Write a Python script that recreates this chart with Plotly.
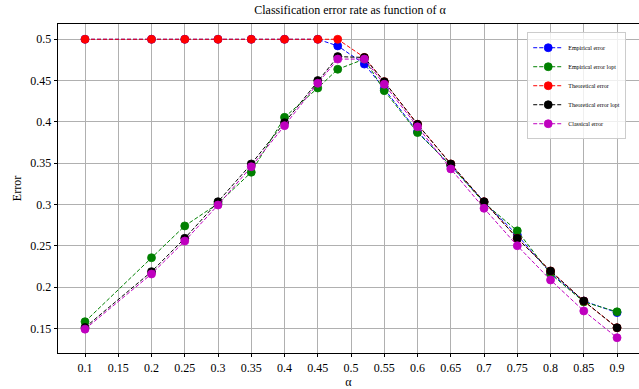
import plotly.graph_objects as go

alpha = [0.1, 0.2, 0.25, 0.3, 0.35, 0.4, 0.45, 0.48, 0.52, 0.55, 0.6, 0.65, 0.7, 0.75, 0.8, 0.85, 0.9]

empirical_error = [0.5, 0.5, 0.5, 0.5, 0.5, 0.5, 0.5, 0.492, 0.470, 0.440, 0.388, 0.347, 0.303, 0.263, 0.217, 0.183, 0.169]
empirical_error_lopt = [0.158, 0.2355, 0.274, 0.301, 0.339, 0.4055, 0.441, 0.4637, 0.476, 0.4378, 0.387, 0.347, 0.302, 0.268, 0.216, 0.182, 0.170]
theoretical_error = [0.5, 0.5, 0.5, 0.5, 0.5, 0.5, 0.5, 0.5, 0.478, 0.4487, 0.397, 0.349, 0.3033, 0.259, 0.2194, 0.183, 0.1507]
theoretical_error_lopt = [0.151, 0.2186, 0.259, 0.3033, 0.349, 0.399, 0.450, 0.479, 0.478, 0.4487, 0.397, 0.349, 0.3033, 0.259, 0.2194, 0.183, 0.1507]
classical_error = [0.149, 0.2158, 0.2557, 0.2993, 0.3457, 0.3954, 0.4467, 0.476, 0.476, 0.4455, 0.394, 0.343, 0.2953, 0.250, 0.2085, 0.171, 0.1386]

series_names = ["Empirical error", "Empirical error lopt", "Theoretical error",
                "Theoretical error lopt", "Classical error"]
series_values = [empirical_error, empirical_error_lopt, theoretical_error,
                 theoretical_error_lopt, classical_error]
series_colors = ["#0000ff", "#008000", "#ff0000", "#000000", "#bf00bf"]

x_ticks = [0.1, 0.15, 0.2, 0.25, 0.3, 0.35, 0.4, 0.45, 0.5, 0.55, 0.6, 0.65, 0.7, 0.75, 0.8, 0.85, 0.9]
x_tick_labels = ["0.1", "0.15", "0.2", "0.25", "0.3", "0.35", "0.4", "0.45", "0.5",
                 "0.55", "0.6", "0.65", "0.7", "0.75", "0.8", "0.85", "0.9"]
y_ticks = [0.15, 0.2, 0.25, 0.3, 0.35, 0.4, 0.45, 0.5]
y_tick_labels = ["0.15", "0.2", "0.25", "0.3", "0.35", "0.4", "0.45", "0.5"]

FONT = "Liberation Serif"

fig = go.Figure()
for name, vals, col in zip(series_names, series_values, series_colors):
    fig.add_trace(go.Scatter(
        x=alpha, y=vals, name=name, mode="lines+markers",
        line=dict(color=col, width=1, dash="4px,2px"),
        marker=dict(color=col, size=8, line=dict(color=col, width=0.8)),
    ))

fig.update_layout(
    width=639, height=389,
    margin=dict(l=58, r=0, t=24, b=36, autoexpand=False),
    plot_bgcolor="white", paper_bgcolor="white",
    font=dict(family=FONT, size=12, color="black"),
    title=dict(text="Classification error rate as function of α", x=350/639, xanchor="center",
               y=1 - 10/389, yanchor="middle", font=dict(family=FONT, size=12, color="black")),
    showlegend=True,
    legend=dict(x=0.978, y=0.975, xanchor="right", yanchor="top",
                bgcolor="rgba(255,255,255,0.8)", bordercolor="#cccccc", borderwidth=1,
                font=dict(family=FONT, size=6, color="black"), itemwidth=30),
)
fig.update_xaxes(
    range=[0.0594, 0.933], tickmode="array", tickvals=x_ticks, ticktext=x_tick_labels,
    automargin=False,
    showgrid=True, gridcolor="#b0b0b0", gridwidth=0.8, zeroline=False,
    showline=True, linecolor="black", linewidth=0.8, mirror=True,
    ticks="outside", ticklen=3.5, tickwidth=0.8, tickcolor="black",
    title=dict(text="α", standoff=2, font=dict(family=FONT, size=12)),
)
fig.update_yaxes(
    range=[0.1201, 0.5185], tickmode="array", tickvals=y_ticks, ticktext=y_tick_labels,
    automargin=False,
    showgrid=True, gridcolor="#b0b0b0", gridwidth=0.8, zeroline=False,
    showline=True, linecolor="black", linewidth=0.8, mirror=False,
    ticks="outside", ticklen=3.5, tickwidth=0.8, tickcolor="black",
    title=dict(text="Error", standoff=6, font=dict(family=FONT, size=12)),
)

fig.write_html("out.html", config={"displayModeBar": False},
               post_script="document.body.style.margin='0';document.body.style.overflow='hidden';")
